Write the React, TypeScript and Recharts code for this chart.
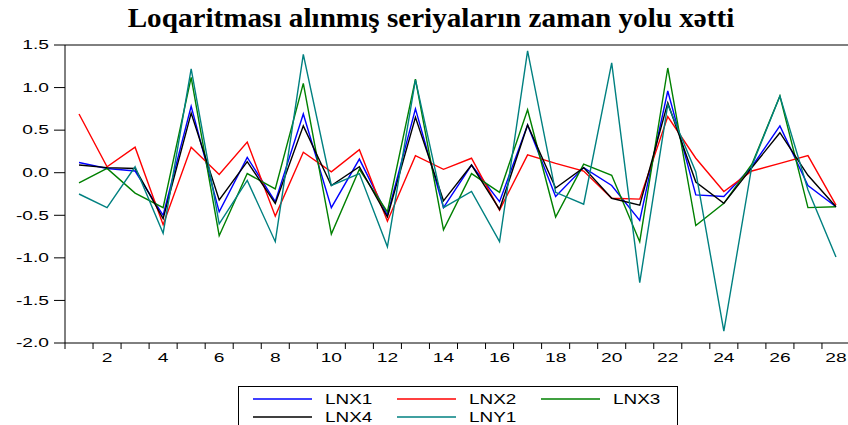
import React from 'react';
import { LineChart, Line, XAxis, YAxis, ReferenceLine } from 'recharts';

const periods = [1, 2, 3, 4, 5, 6, 7, 8, 9, 10, 11, 12, 13, 14, 15, 16, 17, 18, 19, 20, 21, 22, 23, 24, 25, 26, 27, 28];
const lnx1 = [0.12, 0.05, 0.02, -0.5, 0.78, -0.46, 0.18, -0.34, 0.69, -0.41, 0.16, -0.5, 0.75, -0.41, 0.09, -0.34, 0.56, -0.28, 0.06, -0.15, -0.56, 0.96, -0.26, -0.28, 0.07, 0.55, -0.15, -0.4];
const lnx2 = [0.69, 0.07, 0.3, -0.61, 0.3, -0.02, 0.36, -0.51, 0.24, 0.01, 0.27, -0.57, 0.2, 0.04, 0.17, -0.44, 0.21, 0.11, 0.02, -0.3, -0.31, 0.66, 0.17, -0.22, 0.02, 0.11, 0.2, -0.38];
const lnx3 = [-0.12, 0.05, -0.24, -0.41, 1.12, -0.74, -0.01, -0.19, 1.05, -0.72, 0.04, -0.46, 1.1, -0.67, -0.01, -0.23, 0.74, -0.52, 0.1, -0.03, -0.81, 1.23, -0.62, -0.36, 0.1, 0.9, -0.41, -0.4];
const lnx4 = [0.09, 0.06, 0.05, -0.54, 0.7, -0.32, 0.13, -0.36, 0.55, -0.15, 0.07, -0.52, 0.65, -0.33, 0.09, -0.43, 0.56, -0.18, 0.06, -0.3, -0.38, 0.82, -0.11, -0.36, 0.06, 0.47, -0.03, -0.4];
const lny1 = [-0.25, -0.41, 0.07, -0.71, 1.22, -0.6, -0.09, -0.81, 1.39, -0.15, -0.01, -0.87, 1.09, -0.41, -0.22, -0.81, 1.43, -0.23, -0.37, 1.29, -1.29, 0.8, 0.01, -1.86, 0.08, 0.9, -0.2, -0.99];

const xLabels = [2, 4, 6, 8, 10, 12, 14, 16, 18, 20, 22, 24, 26, 28];
const yTicks = [-2, -1.5, -1, -0.5, 0, 0.5, 1, 1.5];

const series = [
  { key: 'LNX1', values: lnx1, color: '#0000ff' },
  { key: 'LNX2', values: lnx2, color: '#ff0000' },
  { key: 'LNX3', values: lnx3, color: '#008000' },
  { key: 'LNX4', values: lnx4, color: '#000000' },
  { key: 'LNY1', values: lny1, color: '#008080' },
];

const data = periods.map((p, i) => {
  const row: Record<string, number> = { period: p };
  series.forEach((s) => {
    row[s.key] = s.values[i];
  });
  return row;
});

// tick marks sit on the band edges, labels in the middle of each band
const boundaries = [0, ...periods].map((p) => p + 0.5);

const CHART_W = 850;
const Y_AXIS_W = 65;
const halfBand = (CHART_W - Y_AXIS_W) / periods.length / 2;

// the original uses a wide sans face, so stretch Liberation Sans sideways
const axisFont = {
  fontFamily: '"Liberation Sans", Arial, sans-serif',
  fontSize: 12,
  fill: '#000',
};
const STRETCH = 1.6;

const XTick = (props: any) => {
  const { x, y, payload } = props;
  const center = payload.value + 0.5;
  if (!xLabels.includes(center)) return <g />;
  return (
    <text
      transform={`translate(${x + halfBand},${y}) scale(${STRETCH},1)`}
      x={0}
      y={0}
      dy="0.8em"
      textAnchor="middle"
      style={axisFont}
    >
      {center}
    </text>
  );
};

const YTick = (props: any) => {
  const { x, y, payload } = props;
  return (
    <text
      transform={`translate(${x - 3},${y}) scale(${STRETCH},1)`}
      x={0}
      y={0}
      dy="0.36em"
      textAnchor="end"
      style={axisFont}
    >
      {payload.value.toFixed(1)}
    </text>
  );
};

const legendRows = [series.slice(0, 3), series.slice(3)];

const App: React.FC = () => {
  return (
    <div style={{ position: 'relative', width: 848, height: 425, overflow: 'hidden', background: '#fff' }}>
      <style>{'body{margin:0}'}</style>
      <div
        style={{
          position: 'absolute',
          left: 0,
          top: 3,
          width: 862,
          textAlign: 'center',
          fontFamily: '"Liberation Serif", "Times New Roman", serif',
          fontWeight: 'bold',
          fontSize: 27,
          lineHeight: '30px',
          transform: 'scaleX(1.08)',
          transformOrigin: '431px 0',
        }}
      >
        Loqaritması alınmış seriyaların zaman yolu xətti
      </div>
      <div style={{ position: 'absolute', left: 0, top: 0 }}>
        <LineChart width={CHART_W} height={372} data={data} margin={{ top: 45, right: 0, bottom: 0, left: 0 }}>
          <XAxis
            dataKey="period"
            type="number"
            domain={[0.5, 28.5]}
            ticks={boundaries}
            interval={0}
            height={29}
            tickSize={6}
            tickMargin={3}
            axisLine={{ stroke: '#000', strokeWidth: 1 }}
            tickLine={{ stroke: '#000' }}
            tick={<XTick />}
          />
          <YAxis
            domain={[-2, 1.5]}
            ticks={yTicks}
            interval={0}
            width={Y_AXIS_W}
            tickSize={11}
            tickMargin={2}
            axisLine={{ stroke: '#000', strokeWidth: 1 }}
            tickLine={{ stroke: '#000' }}
            tick={<YTick />}
          />
          <ReferenceLine y={1.5} stroke="#000" strokeWidth={1} />
          {series.map((s) => (
            <Line
              key={s.key}
              type="linear"
              dataKey={s.key}
              stroke={s.color}
              strokeWidth={1.4}
              dot={false}
              isAnimationActive={false}
            />
          ))}
        </LineChart>
      </div>
      <div
        style={{
          position: 'absolute',
          left: 238,
          top: 386,
          width: 438,
          height: 60,
          border: '1px solid #000',
          fontFamily: '"Liberation Sans", Arial, sans-serif',
          fontSize: 14,
        }}
      >
        {legendRows.map((row, r) =>
          row.map((s, c) => (
            <div
              key={s.key}
              style={{
                position: 'absolute',
                left: 14 + c * 144,
                top: 3 + r * 18,
                height: 18,
                width: 140,
              }}
            >
              <svg width={60} height={18} style={{ position: 'absolute', left: 0, top: 0 }}>
                <line x1={0} y1={9} x2={59} y2={9} stroke={s.color} strokeWidth={1.5} />
              </svg>
              <div
                style={{
                  position: 'absolute',
                  left: 72,
                  top: 1,
                  lineHeight: '16px',
                  whiteSpace: 'nowrap',
                  transform: 'scaleX(1.35)',
                  transformOrigin: '0 0',
                }}
              >
                {s.key}
              </div>
            </div>
          ))
        )}
      </div>
    </div>
  );
};

export default App;
